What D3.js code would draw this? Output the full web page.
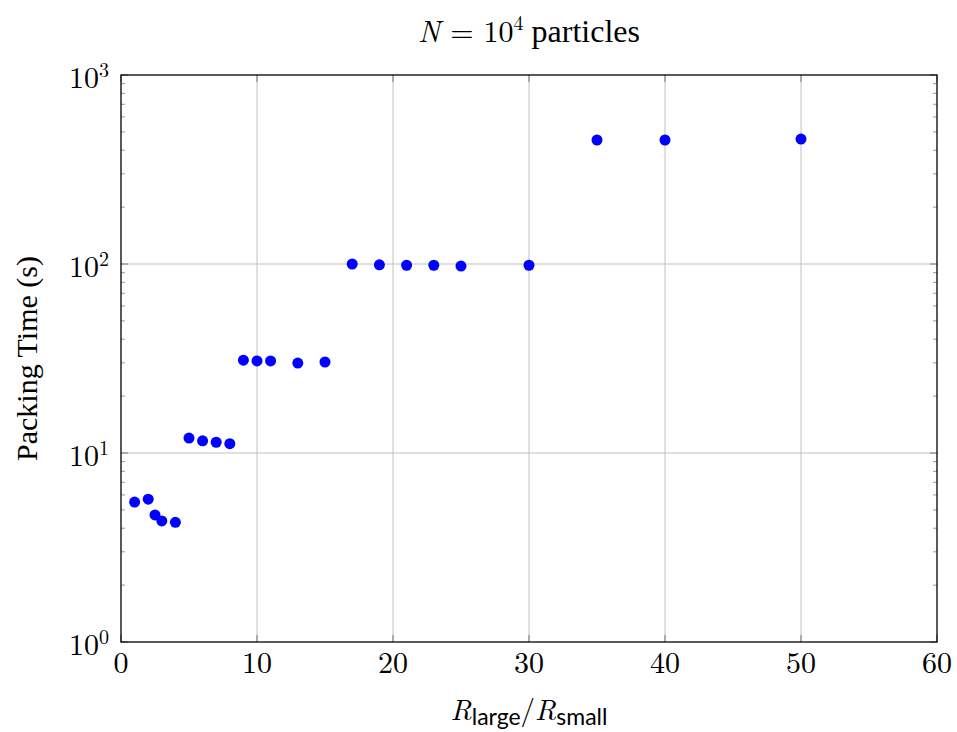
<!DOCTYPE html>
<html>
<head>
<meta charset="utf-8">
<script src="https://cdn.jsdelivr.net/npm/d3@7"></script>
<style>
  body { margin: 0; background: #fff; }
  text { fill: #000; }
  .math { font-family: "Latin Modern Roman", "Liberation Serif", serif; }
  .txt { font-family: "Liberation Serif", serif; }
</style>
</head>
<body>
<div id="chart"></div>
<script>
// ratio R_large / R_small
const ratios = [1, 2, 2.5, 3, 4, 5, 6, 7, 8, 9, 10, 11, 13, 15, 17, 19, 21, 23, 25, 30, 35, 40, 50];
// packing time in seconds
const times = [5.5, 5.7, 4.7, 4.37, 4.3, 12.0, 11.6, 11.4, 11.2, 31.0, 30.7, 30.7, 29.9, 30.3,
               100, 99, 98.5, 98.5, 97.5, 98.5, 453, 453, 458];
const xTicks = [0, 10, 20, 30, 40, 50, 60];
const yExponents = [0, 1, 2, 3];

const width = 957, height = 732;
const margin = {left: 121, right: 20, top: 75, bottom: 90};

const svg = d3.select('#chart').append('svg')
  .attr('width', width)
  .attr('height', height);

const x = d3.scaleLinear().domain([0, 60]).range([margin.left, width - margin.right]);
const y = d3.scaleLog().domain([1, 1000]).range([height - margin.bottom, margin.top]);

const x0 = x.range()[0], x1 = x.range()[1];
const y0 = y.range()[0], y1 = y.range()[1];

// grid lines
const grid = svg.append('g').attr('stroke', '#c0c0c0').attr('stroke-width', 1);
xTicks.slice(1, -1).forEach(t => {
  grid.append('line').attr('x1', x(t)).attr('x2', x(t)).attr('y1', y0).attr('y2', y1);
});
yExponents.slice(1, -1).forEach(e => {
  grid.append('line').attr('x1', x0).attr('x2', x1).attr('y1', y(10 ** e)).attr('y2', y(10 ** e));
});

// ticks (inside, on both sides)
const ticks = svg.append('g');
xTicks.forEach(t => {
  ticks.append('line').attr('x1', x(t)).attr('x2', x(t)).attr('y1', y0).attr('y2', y0 - 7)
    .attr('stroke', '#777');
  ticks.append('line').attr('x1', x(t)).attr('x2', x(t)).attr('y1', y1).attr('y2', y1 + 7)
    .attr('stroke', '#777');
});
yExponents.forEach(e => {
  const v = 10 ** e;
  ticks.append('line').attr('x1', x0).attr('x2', x0 + 7).attr('y1', y(v)).attr('y2', y(v))
    .attr('stroke', '#777');
  ticks.append('line').attr('x1', x1).attr('x2', x1 - 7).attr('y1', y(v)).attr('y2', y(v))
    .attr('stroke', '#777');
  if (e < 3) {
    for (let k = 2; k <= 9; k++) {
      const mv = k * v;
      ticks.append('line').attr('x1', x0).attr('x2', x0 + 4).attr('y1', y(mv)).attr('y2', y(mv))
        .attr('stroke', '#999');
      ticks.append('line').attr('x1', x1).attr('x2', x1 - 4).attr('y1', y(mv)).attr('y2', y(mv))
        .attr('stroke', '#999');
    }
  }
});

// frame
svg.append('rect')
  .attr('x', x0).attr('y', y1)
  .attr('width', x1 - x0).attr('height', y0 - y1)
  .attr('fill', 'none').attr('stroke', '#000').attr('stroke-width', 1.3);

// tick labels
svg.append('g').selectAll('text').data(xTicks).join('text')
  .attr('class', 'math')
  .attr('x', d => x(d)).attr('y', y0 + 31)
  .attr('text-anchor', 'middle')
  .attr('font-size', 30)
  .text(d => d);

const yl = svg.append('g').selectAll('text').data(yExponents).join('text')
  .attr('class', 'math')
  .attr('x', x0 - 12).attr('y', d => y(10 ** d) + 13)
  .attr('text-anchor', 'end')
  .attr('font-size', 30);
yl.append('tspan').text('10');
yl.append('tspan').attr('font-size', 20).attr('dy', -11).text(d => d);

// points
svg.append('g').selectAll('circle').data(ratios).join('circle')
  .attr('cx', d => x(d))
  .attr('cy', (d, i) => y(times[i]))
  .attr('r', 5.5)
  .attr('fill', '#0000ff');

// title
const title = svg.append('text')
  .attr('class', 'math')
  .attr('x', (x0 + x1) / 2).attr('y', 42)
  .attr('text-anchor', 'middle')
  .attr('font-size', 30);
title.append('tspan').attr('font-style', 'italic').text('N');
title.append('tspan').text(' = 10');
title.append('tspan').attr('font-size', 20).attr('dy', -12).text('4');
title.append('tspan').attr('class', 'txt').attr('font-size', 32).attr('dy', 12).text(' particles');

// x label
const xl = svg.append('text')
  .attr('class', 'math')
  .attr('x', (x0 + x1) / 2).attr('y', 720)
  .attr('text-anchor', 'middle')
  .attr('font-size', 29);
xl.append('tspan').attr('font-style', 'italic').text('R');
xl.append('tspan').attr('font-family', 'Lato, sans-serif').attr('font-size', 23).attr('dy', 5).text('large');
xl.append('tspan').attr('dy', -5).text('/');
xl.append('tspan').attr('font-style', 'italic').text('R');
xl.append('tspan').attr('font-family', 'Lato, sans-serif').attr('font-size', 23).attr('dy', 5).text('small');

// y label
svg.append('text')
  .attr('class', 'txt')
  .attr('transform', `translate(37, ${(y0 + y1) / 2}) rotate(-90)`)
  .attr('text-anchor', 'middle')
  .attr('font-size', 30)
  .text('Packing Time (s)');
</script>
</body>
</html>
